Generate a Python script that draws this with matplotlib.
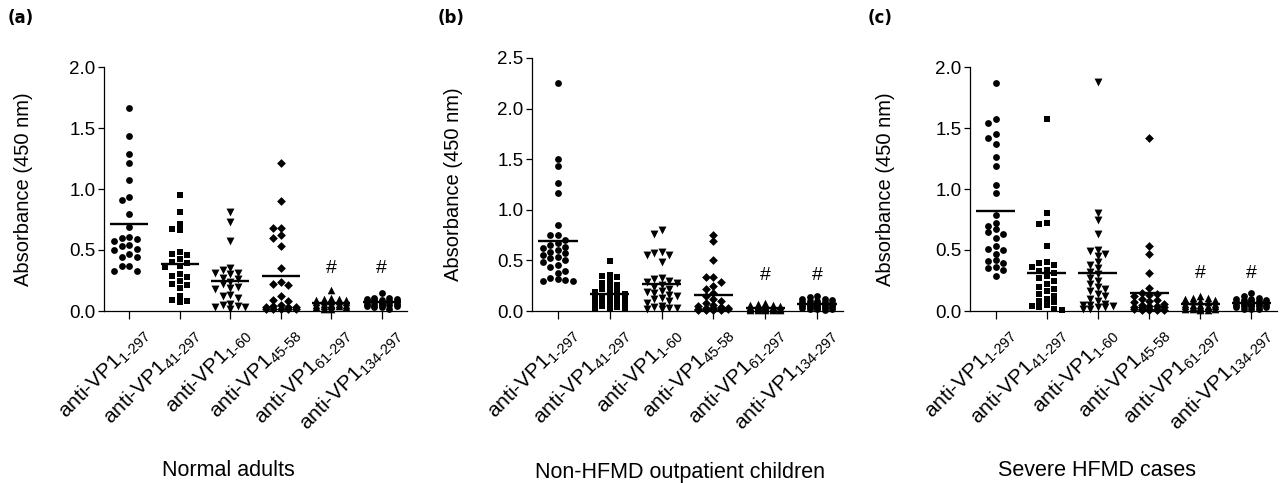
"""
Anti-VP1 antibody absorbance, three cohorts
"""
import numpy as np
import matplotlib
matplotlib.use('Agg')
import matplotlib.pyplot as plt
from matplotlib.transforms import ScaledTranslation

plt.rcParams['font.family'] = ['Liberation Sans', 'DejaVu Sans']
plt.rcParams['mathtext.fontset'] = 'custom'
plt.rcParams['mathtext.rm'] = 'Liberation Sans'
plt.rcParams['mathtext.it'] = 'Liberation Sans:italic'
plt.rcParams['mathtext.bf'] = 'Liberation Sans:bold'

# ---------------- data ----------------
fragments = ['1-297', '41-297', '1-60', '45-58', '61-297', '134-297']
markers = ['o', 's', 'v', 'D', '^', 'o']
marker_sizes = [24, 22, 32, 20, 30, 24]

adults = [
    [1.665, 1.438, 1.285, 1.211, 1.072, 0.936, 0.909, 0.794, 0.690, 0.61, 0.60, 0.59,
     0.575, 0.54, 0.53, 0.505, 0.50, 0.47, 0.445, 0.44, 0.37, 0.37, 0.33, 0.33],
    [0.95, 0.81, 0.71, 0.675, 0.66, 0.48, 0.47, 0.46, 0.43, 0.40, 0.39, 0.37, 0.36,
     0.30, 0.29, 0.28, 0.25, 0.22, 0.21, 0.19, 0.12, 0.09, 0.085, 0.07],
    [0.81, 0.73, 0.57, 0.35, 0.34, 0.31, 0.31, 0.30, 0.27, 0.26, 0.24, 0.22, 0.20,
     0.19, 0.18, 0.13, 0.12, 0.11, 0.06, 0.05, 0.04, 0.035, 0.03, 0.02],
    [1.21, 0.90, 0.68, 0.68, 0.62, 0.60, 0.53, 0.355, 0.24, 0.22, 0.21, 0.12, 0.09,
     0.08, 0.05, 0.04, 0.03, 0.03, 0.03, 0.02, 0.02, 0.02, 0.02, 0.02],
    [0.17, 0.11, 0.10, 0.10, 0.09, 0.09, 0.08, 0.08, 0.08, 0.07, 0.07, 0.06, 0.06,
     0.06, 0.05, 0.05, 0.05, 0.04, 0.04, 0.04, 0.03, 0.03, 0.02, 0.02],
    [0.145, 0.11, 0.11, 0.10, 0.10, 0.09, 0.09, 0.08, 0.08, 0.08, 0.07, 0.07, 0.07,
     0.06, 0.06, 0.06, 0.05, 0.05, 0.05, 0.04, 0.04, 0.03, 0.03, 0.02],
]

outpatients = [
    [2.256, 1.50, 1.43, 1.26, 1.17, 0.85, 0.75, 0.75, 0.70, 0.67, 0.65, 0.63, 0.62,
     0.60, 0.58, 0.57, 0.55, 0.53, 0.52, 0.50, 0.48, 0.45, 0.43, 0.40, 0.38, 0.33,
     0.32, 0.31, 0.30, 0.30],
    [0.49, 0.36, 0.35, 0.34, 0.30, 0.28, 0.26, 0.24, 0.22, 0.20, 0.19, 0.18, 0.17,
     0.15, 0.14, 0.13, 0.12, 0.11, 0.10, 0.09, 0.08, 0.07, 0.06, 0.05, 0.04, 0.03,
     0.03, 0.02],
    [0.80, 0.76, 0.58, 0.57, 0.55, 0.55, 0.48, 0.33, 0.32, 0.30, 0.29, 0.28, 0.26,
     0.24, 0.22, 0.20, 0.19, 0.18, 0.16, 0.15, 0.13, 0.12, 0.10, 0.08, 0.05, 0.04,
     0.03, 0.03, 0.02, 0.02],
    [0.75, 0.69, 0.50, 0.34, 0.34, 0.29, 0.25, 0.22, 0.18, 0.15, 0.12, 0.10, 0.08,
     0.06, 0.05, 0.04, 0.03, 0.03, 0.03, 0.02, 0.02, 0.02, 0.02, 0.02, 0.01, 0.01,
     0.01, 0.01],
    [0.08, 0.07, 0.06, 0.06, 0.05, 0.05, 0.05, 0.04, 0.04, 0.04, 0.04, 0.03, 0.03,
     0.03, 0.03, 0.03, 0.02, 0.02, 0.02, 0.02, 0.02, 0.02, 0.02, 0.01, 0.01, 0.01,
     0.01, 0.01],
    [0.15, 0.14, 0.12, 0.12, 0.11, 0.10, 0.10, 0.09, 0.09, 0.08, 0.08, 0.07, 0.07,
     0.07, 0.06, 0.06, 0.06, 0.05, 0.05, 0.05, 0.04, 0.04, 0.04, 0.03, 0.03, 0.03,
     0.02, 0.02, 0.02, 0.01],
]

severe = [
    [1.87, 1.574, 1.54, 1.454, 1.416, 1.367, 1.263, 1.19, 1.03, 0.97, 0.786, 0.72,
     0.70, 0.67, 0.65, 0.63, 0.60, 0.53, 0.51, 0.50, 0.47, 0.42, 0.41, 0.39, 0.36,
     0.35, 0.34, 0.29],
    [1.57, 0.80, 0.72, 0.71, 0.53, 0.40, 0.39, 0.38, 0.36, 0.34, 0.33, 0.31, 0.29,
     0.27, 0.25, 0.22, 0.20, 0.18, 0.16, 0.14, 0.12, 0.10, 0.08, 0.07, 0.05, 0.04,
     0.03, 0.02, 0.01],
    [1.88, 0.80, 0.745, 0.63, 0.50, 0.49, 0.47, 0.45, 0.40, 0.38, 0.35, 0.32, 0.30,
     0.27, 0.25, 0.22, 0.20, 0.18, 0.16, 0.14, 0.12, 0.10, 0.08, 0.06, 0.05, 0.05,
     0.04, 0.03, 0.03, 0.02, 0.02],
    [1.42, 0.53, 0.465, 0.31, 0.185, 0.15, 0.14, 0.13, 0.12, 0.10, 0.09, 0.08, 0.07,
     0.06, 0.05, 0.04, 0.04, 0.03, 0.03, 0.03, 0.02, 0.02, 0.02, 0.02, 0.01, 0.01,
     0.01, 0.01],
    [0.12, 0.11, 0.11, 0.10, 0.09, 0.08, 0.08, 0.07, 0.06, 0.06, 0.05, 0.05, 0.04,
     0.04, 0.04, 0.03, 0.03, 0.03, 0.02, 0.02, 0.02, 0.02, 0.01, 0.01],
    [0.15, 0.12, 0.11, 0.10, 0.10, 0.09, 0.09, 0.08, 0.08, 0.07, 0.07, 0.07, 0.06,
     0.06, 0.06, 0.05, 0.05, 0.05, 0.04, 0.04, 0.04, 0.03, 0.03, 0.02, 0.02, 0.02],
]

panels = [
    # letter, cohort label, data, ymax, ticks
    ('(a)', 'Normal adults', adults, 2.0, [0, 0.5, 1.0, 1.5, 2.0]),
    ('(b)', 'Non-HFMD outpatient children', outpatients, 2.5,
     [0, 0.5, 1.0, 1.5, 2.0, 2.5]),
    ('(c)', 'Severe HFMD cases', severe, 2.0, [0, 0.5, 1.0, 1.5, 2.0]),
]
hash_cols = [4, 5]
hash_y = [0.28, 0.27, 0.24]

# ---------------- layout (figure pixels) ----------------
W, H = 1282, 483
axes_px = [(104, 67, 407), (532, 58, 843), (970, 67, 1277)]   # left, top, right
AXIS_Y0 = 311
ylabel_x = [-0.234, -0.222, -0.244]
xlabel_pos = [(0.409, -0.611), (0.476, -0.597), (0.414, -0.611)]
letter_x = [8, 438, 868]


def swarm_offsets(vals, px_per_unit, step_px=7.5, diam_px=6.0, max_steps=2):
    """Greedy beeswarm: returns horizontal offsets in pixels."""
    vals = np.asarray(vals, float)
    order = np.argsort(-vals, kind='stable')
    cands = [0]
    for k in range(1, max_steps + 1):
        cands += [-k, k]
    placed = []
    offs = np.zeros(len(vals))
    for i in order:
        y = vals[i] * px_per_unit
        best, best_d = 0, -1.0
        for c in cands:
            x = c * step_px
            if placed:
                pts = np.array(placed)
                d = np.min(np.hypot(pts[:, 0] - x, pts[:, 1] - y))
            else:
                d = np.inf
            if d >= diam_px:
                best = x
                break
            if d > best_d:
                best_d, best = d, x
        offs[i] = best
        placed.append((best, y))
    return offs


fig = plt.figure(figsize=(W / 100, H / 100), dpi=100)

for p, (letter, cohort, data, ymax, yticks) in enumerate(panels):
    left, top, right = axes_px[p]
    ax = fig.add_axes([left / W, (H - AXIS_Y0) / H,
                       (right - left) / W, (AXIS_Y0 - top) / H])
    ax.set_xlim(-0.5, 5.5)
    ax.set_ylim(0, ymax)

    px_x = (right - left) / 6.0
    px_y = (AXIS_Y0 - top) / ymax
    for i, vals in enumerate(data):
        offs = swarm_offsets(vals, px_y) / px_x
        ax.scatter(i + offs, vals, s=marker_sizes[i], marker=markers[i],
                   color='black', linewidths=0, clip_on=False, zorder=3)
        ax.plot([i - 0.38, i + 0.38], [np.mean(vals)] * 2, color='black',
                lw=1.7, solid_capstyle='butt', zorder=4, clip_on=False)

    for c in hash_cols:
        ax.text(c, hash_y[p], '#', ha='center', va='bottom', fontsize=14)

    for side in ('top', 'right'):
        ax.spines[side].set_visible(False)
    for side in ('left', 'bottom'):
        ax.spines[side].set_linewidth(0.9)

    ax.set_yticks(yticks)
    ax.set_yticklabels([f'{t:.1f}' for t in yticks], fontsize=13.5)
    ax.tick_params(axis='y', direction='out', length=4.5, width=0.9, pad=1.5)
    ax.tick_params(axis='x', direction='out', length=6, width=0.9, pad=3)

    ax.set_xticks(range(len(fragments)))
    labels = ax.set_xticklabels(
        [f'anti-VP1$_{{\\text{{{f}}}}}$' for f in fragments],
        rotation=45, ha='right', va='top', rotation_mode='anchor', fontsize=15)
    shift = ScaledTranslation(9 / 100, 0, fig.dpi_scale_trans)
    for lab in labels:
        lab.set_transform(lab.get_transform() + shift)

    ax.set_ylabel('Absorbance (450 nm)', fontsize=14.5)
    ax.yaxis.set_label_coords(ylabel_x[p], 0.5)
    ax.set_xlabel(cohort, fontsize=15.5)
    ax.xaxis.set_label_coords(*xlabel_pos[p])

    fig.text(letter_x[p] / W, 1 - 9 / H, letter, family='DejaVu Sans',
             fontweight='bold', fontsize=12, ha='left', va='top')

fig.savefig('out.png', dpi=100)
